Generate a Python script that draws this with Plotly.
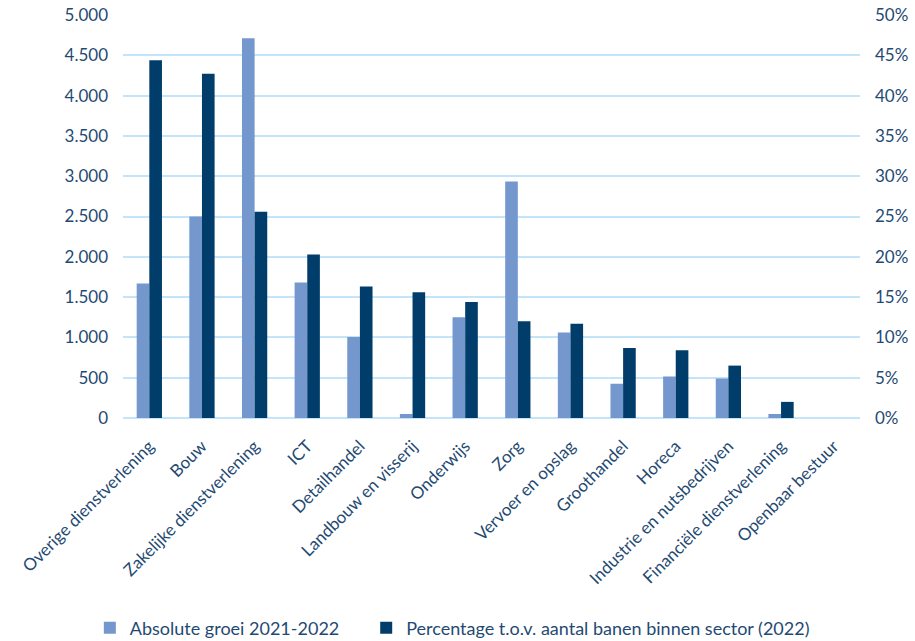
import plotly.graph_objects as go

sectors = [
    "Overige dienstverlening", "Bouw", "Zakelijke dienstverlening", "ICT",
    "Detailhandel", "Landbouw en visserij", "Onderwijs", "Zorg",
    "Vervoer en opslag", "Groothandel", "Horeca", "Industrie en nutsbedrijven",
    "Financiële dienstverlening", "Openbaar bestuur",
]
absolute_growth = [1670, 2500, 4710, 1680, 1005, 50, 1250, 2935, 1060, 425, 515, 490, 50, 0]
pct_of_jobs = [0.444, 0.427, 0.256, 0.203, 0.163, 0.156, 0.144, 0.120, 0.117, 0.087, 0.084, 0.065, 0.020, 0.0]

left_ticks = [0, 500, 1000, 1500, 2000, 2500, 3000, 3500, 4000, 4500, 5000]
right_ticks = [0, 0.05, 0.10, 0.15, 0.20, 0.25, 0.30, 0.35, 0.40, 0.45, 0.50]

LIGHT = "#7497CD"
DARK = "#003D6B"
TEXT = "#1F4A73"
GRID = "#C4E4FA"
FONT = "Lato"

fig = go.Figure()
fig.add_trace(go.Bar(
    x=sectors, y=absolute_growth, name="Absolute groei 2021-2022",
    marker=dict(color=LIGHT, line=dict(width=0)),
    width=0.24, offset=-0.24, yaxis="y", legend="legend",
))
fig.add_trace(go.Bar(
    x=sectors, y=pct_of_jobs, name="Percentage t.o.v. aantal banen binnen sector (2022)",
    marker=dict(color=DARK, line=dict(width=0)),
    width=0.24, offset=0.0, yaxis="y2", legend="legend2",
))

legend_style = dict(
    orientation="h", xanchor="left", y=-0.475, yanchor="top",
    font=dict(size=18, color=TEXT), itemwidth=30, bgcolor="rgba(0,0,0,0)",
)

fig.update_layout(
    width=915, height=641,
    margin=dict(l=123, r=55, t=15, b=223, autoexpand=False),
    paper_bgcolor="white", plot_bgcolor="white",
    separators=",.",
    font=dict(family=FONT, color=TEXT, size=17),
    showlegend=True,
    legend=dict(x=-0.045, **legend_style),
    legend2=dict(x=0.33, **legend_style),
    xaxis=dict(
        type="category", tickangle=-45, automargin=False,
        tickfont=dict(family=FONT, size=17, color=TEXT),
        ticklabelstandoff=14,
        showgrid=False, showline=False, ticks="",
    ),
    yaxis=dict(
        range=[0, 5000], tickvals=left_ticks, tickformat=",d", automargin=False,
        showgrid=True, gridcolor=GRID, gridwidth=1.5,
        zeroline=True, zerolinecolor=GRID, zerolinewidth=1.5,
        showline=False, ticks="", ticklabelstandoff=14,
        tickfont=dict(size=17, color=TEXT),
    ),
    yaxis2=dict(
        overlaying="y", side="right", range=[0, 0.5], tickvals=right_ticks,
        tickformat=".0%", showgrid=False, zeroline=False, showline=False,
        automargin=False, ticks="", ticklabelstandoff=14,
        tickfont=dict(size=17, color=TEXT),
    ),
)

fig.write_html("out.html")
